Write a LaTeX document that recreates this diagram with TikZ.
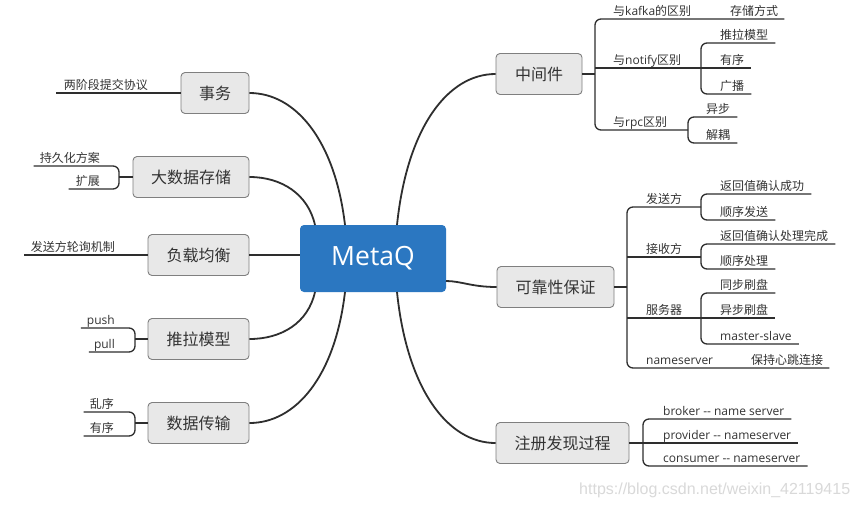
\documentclass[tikz,border=0pt]{standalone}
\usepackage{fontspec}
\setmainfont{Open Sans}
\newfontfamily\cjk{Noto Sans CJK SC}
\newfontfamily\lat{Open Sans}
\newfontfamily\wmfont{Liberation Sans}
\usetikzlibrary{calc}
\definecolor{txt}{HTML}{333333}
\definecolor{linec}{HTML}{2E2E2E}
\definecolor{boxfill}{HTML}{E8E8E8}
\definecolor{boxdraw}{HTML}{7F7F7F}
\definecolor{mq}{HTML}{2B77C1}
\definecolor{wmc}{HTML}{D9D9D9}
\tikzset{
  topic/.style={draw=boxdraw, fill=boxfill, rounded corners=4pt, line width=0.9pt, text=txt,
    font=\cjk\fontsize{16}{16}\selectfont, inner sep=0pt, minimum height=41pt},
  lblr/.style={font=\cjk\fontsize{12}{14}\selectfont, text=txt, inner sep=0pt, anchor=base west},
  lbll/.style={font=\cjk\fontsize{12}{14}\selectfont, text=txt, inner sep=0pt, anchor=base east},
  trunk/.style={draw=linec, line width=1.8pt},
  twig/.style={draw=linec, line width=1.3pt, rounded corners=6pt},
}
\begin{document}
\begin{tikzpicture}[x=1pt,y=-1pt]
\fill[white] (0,0) rectangle (859,507);
\useasboundingbox (0,0) rectangle (859,507);

% central topic
\node[fill=mq, rounded corners=4pt, minimum width=146pt, minimum height=67pt, inner sep=0pt,
  text=white, font=\lat\fontsize{26.5}{28}\selectfont] (metaq) at (373,258.5) {MetaQ};

% main topics
\node[topic, minimum width=68pt]  (shiwu) at (215,93)    {事务};
\node[topic, minimum width=116pt] (dsj)   at (191,177)   {大数据存储};
\node[topic, minimum width=101pt] (fzjh)  at (198.5,255) {负载均衡};
\node[topic, minimum width=101pt] (tlmx)  at (198.5,339) {推拉模型};
\node[topic, minimum width=101pt] (sjcs)  at (198.5,423) {数据传输};
\node[topic, minimum width=86pt]  (zjj)   at (539,74)    {中间件};
\node[topic, minimum width=117pt] (kkx)   at (555.5,287) {可靠性保证};
\node[topic, minimum width=133pt] (zcfx)  at (562.5,443) {注册发现过程};

% attachment points on the central topic
\coordinate (mt1) at (345,225);
\coordinate (mt2) at (315,225);
\coordinate (mt3) at (397,225);
\coordinate (mb1) at (345,292);
\coordinate (mb2) at (315,292);
\coordinate (mb3) at (397,292);
\coordinate (mr)  at (446,281);

% trunk connectors
\draw[trunk] (shiwu.east) .. controls +(46,0) and +(-10,-85) .. (mt1);
\draw[trunk] (dsj.east) .. controls +(32,0) and +(-7,-31) .. (mt2);
\draw[trunk] (fzjh.east) -- (fzjh.east -| metaq.west);
\draw[trunk] (tlmx.east) .. controls +(32,0) and +(-7,31) .. (mb2);
\draw[trunk] (sjcs.east) .. controls +(46,0) and +(-10,85) .. (mb1);
\draw[trunk] (zjj.west) .. controls +(-48,0) and +(10,-97) .. (mt3);
\draw[trunk] (kkx.west) .. controls +(-25,0) and +(15,0) .. (mr);
\draw[trunk] (zcfx.west) .. controls +(-48,0) and +(10,97) .. (mb3);

% ---------- 中间件 ----------
\node[lblr] (kafka)  at (613,15)  {与{\lat kafka}的区别};
\node[lblr] (ccfs)   at (730,15)  {存储方式};
\node[lblr] (notify) at (613,64)  {与{\lat notify}区别};
\node[lblr] (tlmx2)  at (720,39)  {推拉模型};
\node[lblr] (yx1)    at (720,64)  {有序};
\node[lblr] (gb)     at (720,90)  {广播};
\node[lblr] (rpc)    at (613,126) {与{\lat rpc}区别};
\node[lblr] (yb)     at (706,113) {异步};
\node[lblr] (jo)     at (706,139) {解耦};
\draw[twig] (zjj.east) -- (595,74);
\draw[twig] ($(ccfs.base east)+(6,4)$) -- (595,19) -- (595,130) -- (688,130);
\draw[twig] (595,68) -- ($(yx1.base east)+(7,4)$);
\draw[twig] ($(tlmx2.base east)+(7,4)$) -- (701,43) -- (701,94) -- ($(gb.base east)+(7,4)$);
\draw[twig] ($(yb.base east)+(7,4)$) -- (688,117) -- (688,143) -- ($(jo.base east)+(7,4)$);

% ---------- 可靠性保证 ----------
\node[lblr] (fsf)  at (646,203) {发送方};
\node[lblr] (fh1)  at (720,190) {返回值确认成功};
\node[lblr] (sxfs) at (720,216) {顺序发送};
\node[lblr] (jsf)  at (646,253) {接收方};
\node[lblr] (fh2)  at (720,240) {返回值确认处理完成};
\node[lblr] (sxcl) at (720,265) {顺序处理};
\node[lblr] (fwq)  at (646,314) {服务器};
\node[lblr] (tbsp) at (720,289) {同步刷盘};
\node[lblr] (ybsp) at (720,314) {异步刷盘};
\node[lblr] (ms)   at (720,340) {{\lat master-slave}};
\node[lblr] (ns)   at (646,364) {{\lat nameserver}};
\node[lblr] (xt)   at (751,364) {保持心跳连接};
\draw[twig] (kkx.east) -- (627,287);
\draw[twig] (701,207) -- (627,207) -- (627,368) -- ($(xt.base east)+(6,4)$);
\draw[twig] ($(fh1.base east)+(7,4)$) -- (701,194) -- (701,220) -- ($(sxfs.base east)+(7,4)$);
\draw[twig] (627,257) -- (701,257);
\draw[twig] ($(fh2.base east)+(7,4)$) -- (701,244) -- (701,269) -- ($(sxcl.base east)+(7,4)$);
\draw[twig] (627,318) -- ($(ybsp.base east)+(7,4)$);
\draw[twig] ($(tbsp.base east)+(7,4)$) -- (701,293) -- (701,344) -- ($(ms.base east)+(7,4)$);

% ---------- 注册发现过程 ----------
\node[lblr] (bk) at (663,415) {{\lat broker -\kern0pt- name server}};
\node[lblr] (pv) at (663,439) {{\lat provider -\kern0pt- nameserver}};
\node[lblr] (cs) at (663,462) {{\lat consumer -\kern0pt- nameserver}};
\draw[twig] (zcfx.east) -- ($(pv.base east)+(7,4)$);
\draw[twig] ($(bk.base east)+(7,4)$) -- (643,419) -- (643,466) -- ($(cs.base east)+(7,4)$);

% ---------- left side ----------
\node[lbll] (lj) at (148,89) {两阶段提交协议};
\draw[twig] (shiwu.west) -- ($(lj.base west)+(-8,4)$);

\node[lbll] (cjh) at (100,162) {持久化方案};
\node[lbll] (kz)  at (100,185) {扩展};
\draw[twig] (dsj.west) -- (119,177);
\draw[twig] ($(cjh.base west)+(-6,4)$) -- (119,166) -- (119,189) -- ($(kz.base west)+(-7,4)$);

\node[lbll] (lx2) at (115,251) {发送方轮询机制};
\draw[twig] (fzjh.west) -- ($(lx2.base west)+(-7,4)$);

\node[lbll] (push) at (115,324) {{\lat push}};
\node[lbll] (pull) at (115,348) {{\lat pull}};
\draw[twig] (tlmx.west) -- (135,339);
\draw[twig] ($(push.base west)+(-6,4)$) -- (135,328) -- (135,352) -- ($(pull.base west)+(-5,4)$);

\node[lbll] (lx) at (114,408) {乱序};
\node[lbll] (yx2) at (114,432) {有序};
\draw[twig] (sjcs.west) -- (135,423);
\draw[twig] ($(lx.base west)+(-6,4)$) -- (135,412) -- (135,436) -- ($(yx2.base west)+(-6,4)$);

% watermark
\node[font=\wmfont\fontsize{16}{16}\selectfont, text=wmc, anchor=base west, inner sep=0pt] (wm)
  at (579,494) {https://blog.csdn.net/weixin\_42119415};
\end{tikzpicture}
\end{document}
